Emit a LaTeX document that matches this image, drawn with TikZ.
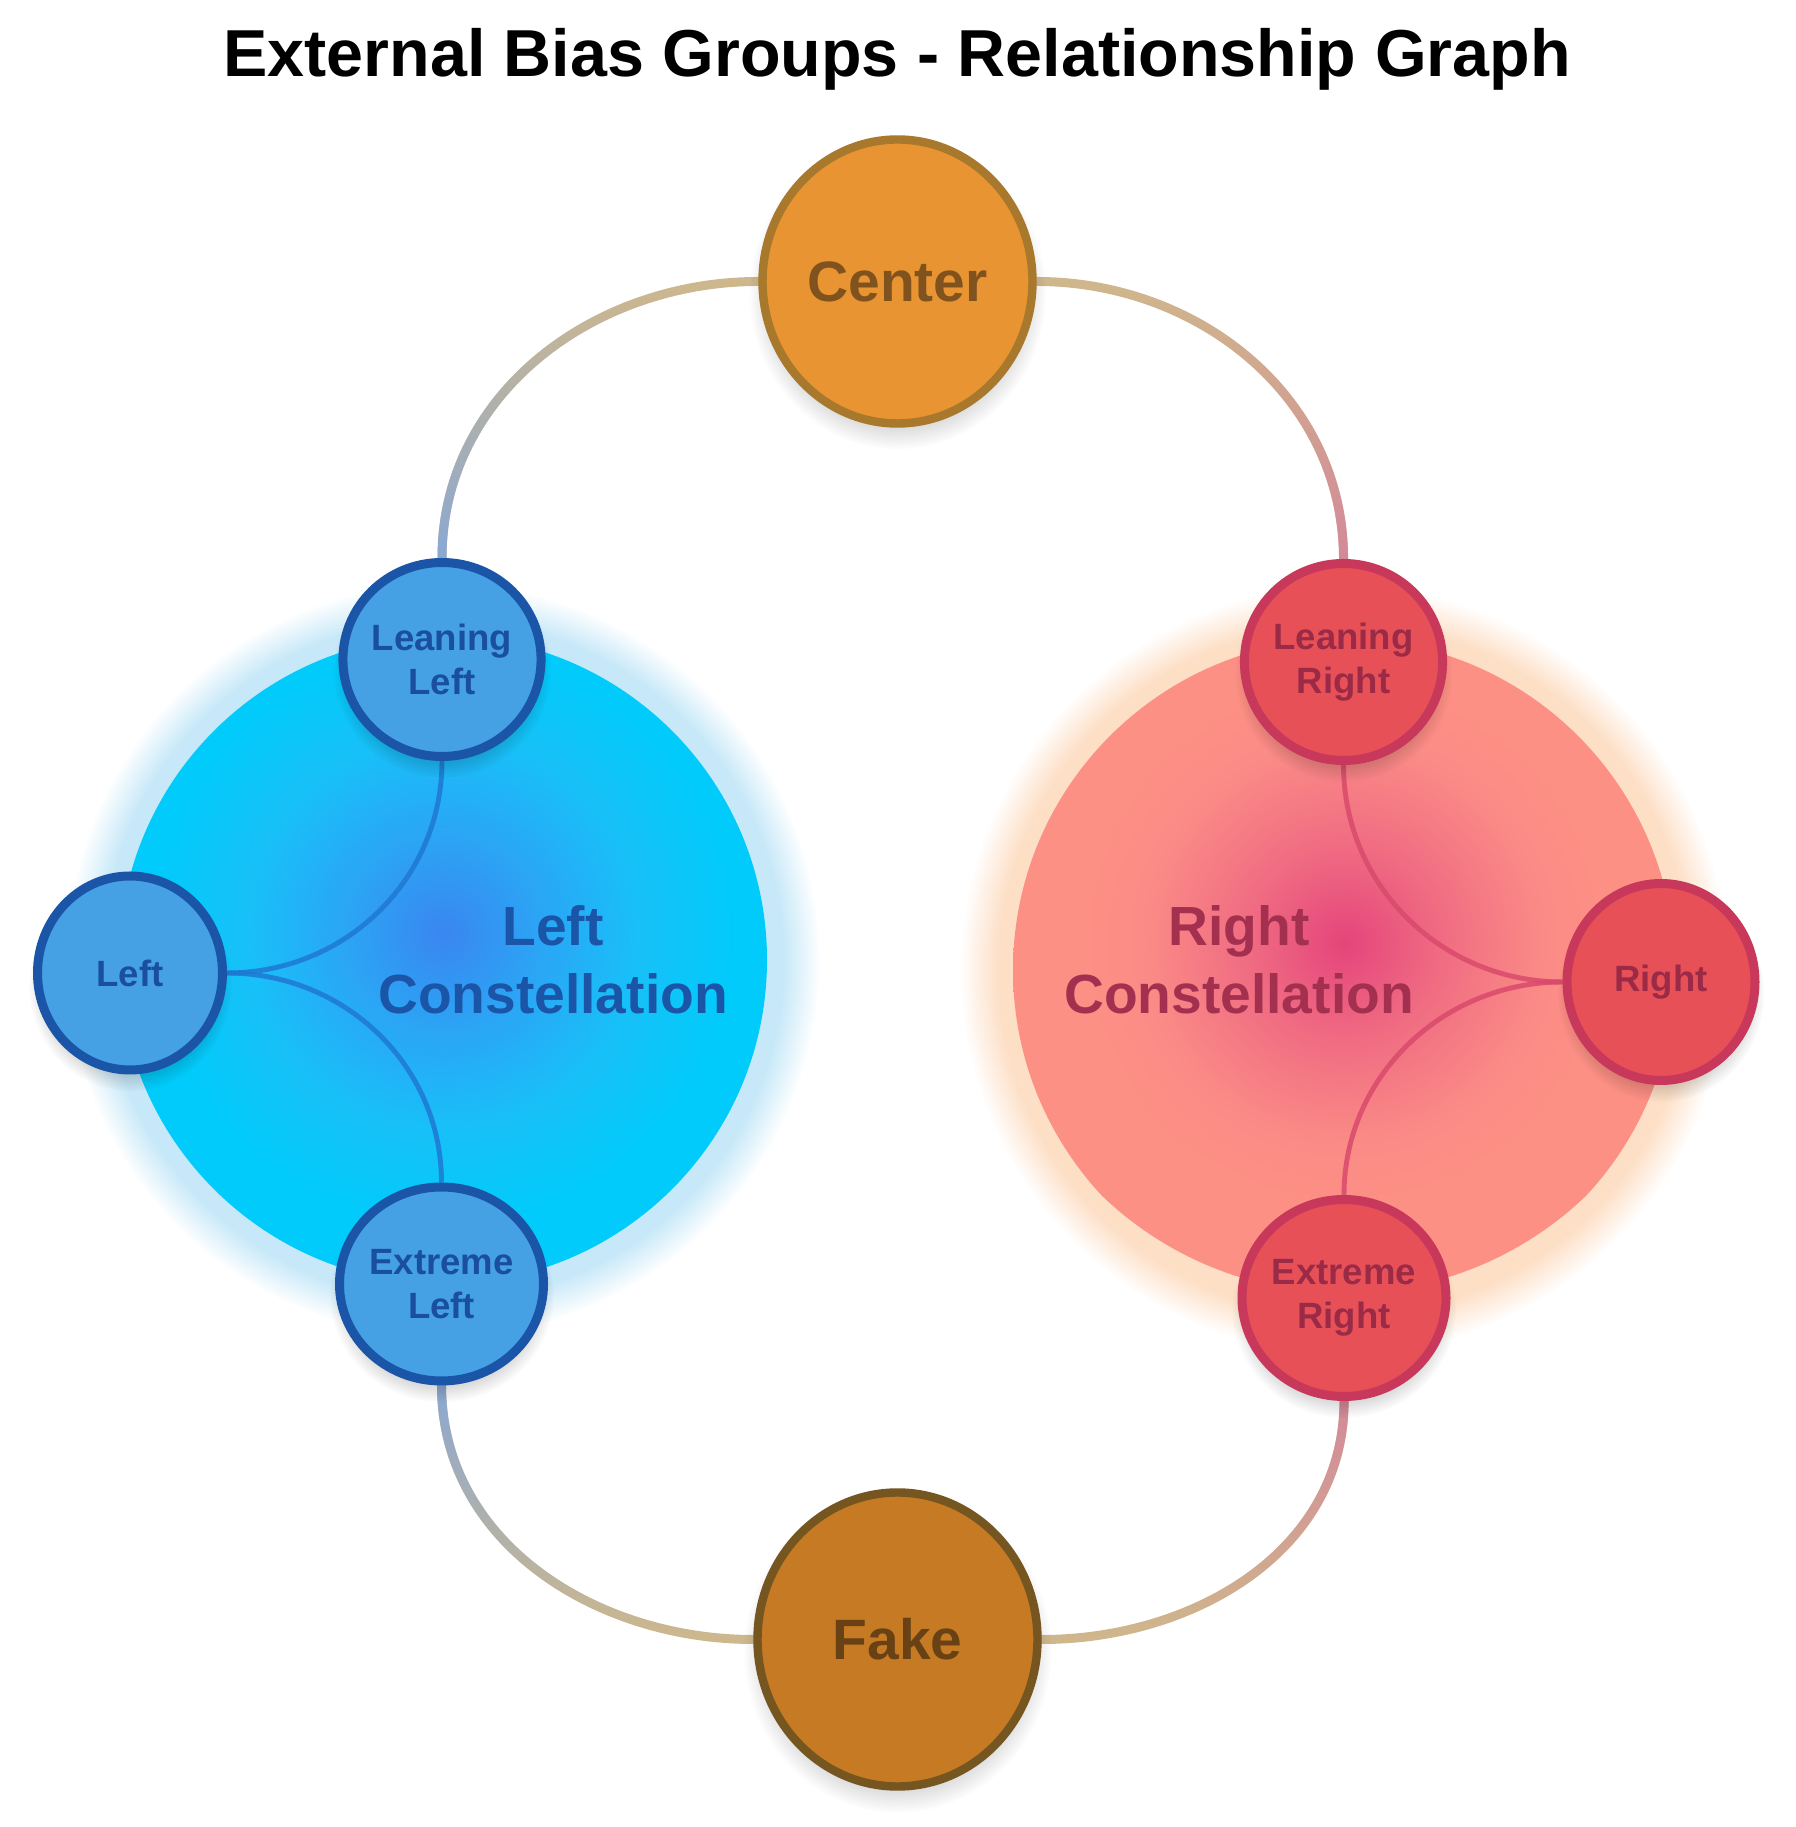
\documentclass[tikz,border=0pt]{standalone}
\usepackage{fontspec}
\setmainfont{Liberation Sans}
\usepackage{tikz}
\usetikzlibrary{positioning,shapes.geometric,fadings,shadows,calc}

% colours of the three camps
\definecolor{leftfill}{HTML}{46A0E4}
\definecolor{leftdraw}{HTML}{1A55A8}
\definecolor{lefttext}{HTML}{1A4F9F}
\definecolor{rightfill}{HTML}{E85058}
\definecolor{rightdraw}{HTML}{C8385A}
\definecolor{righttext}{HTML}{9B2A46}
\definecolor{hubfill}{HTML}{E99432}
\definecolor{hubdraw}{HTML}{A8782D}
\definecolor{hubtext}{HTML}{80521E}
\definecolor{fakefill}{HTML}{C77A24}
\definecolor{fakedraw}{HTML}{765620}
\definecolor{faketext}{HTML}{684214}
\definecolor{linktan}{HTML}{CFB88C}
\definecolor{linkblue}{HTML}{8AA8D4}
\definecolor{linkpink}{HTML}{D4889A}
\definecolor{glowblue}{HTML}{C6E8F8}
\definecolor{glowpeach}{HTML}{FDDFC6}
\definecolor{lcin}{HTML}{3A86F0}
\definecolor{lcmid}{HTML}{2BA5F5}
\definecolor{lcmidd}{HTML}{18C0F8}
\definecolor{lcout}{HTML}{00CBFA}
\definecolor{rcin}{HTML}{E4457B}
\definecolor{rcmid}{HTML}{F06C82}
\definecolor{rcmidd}{HTML}{FA8A86}
\definecolor{rcout}{HTML}{FD9085}
\definecolor{lcontext}{HTML}{1A55A8}
\definecolor{rcontext}{HTML}{A43050}

\pgfdeclareradialshading{leftcon}{\pgfpoint{0bp}{0bp}}{color(0bp)=(lcin); color(7bp)=(lcmid); color(14bp)=(lcmidd); color(21bp)=(lcout); color(50bp)=(lcout)}
\pgfdeclareradialshading{rightcon}{\pgfpoint{0bp}{0bp}}{color(0bp)=(rcin); color(7bp)=(rcmid); color(14bp)=(rcmidd); color(19bp)=(rcout); color(50bp)=(rcout)}

\tikzfading[name=fadeup, bottom color=transparent!0, middle color=transparent!75, top color=transparent!100]
\tikzfading[name=fadedown, top color=transparent!0, middle color=transparent!75, bottom color=transparent!100]

\pgfdeclarelayer{glow}
\pgfdeclarelayer{edges}
\pgfsetlayers{glow,edges,main}

\tikzset{
    bias/.style={
        ellipse,
        line width=2.56pt,
        inner sep=0pt,
        align=center,
        font=\bfseries\fontsize{10.4}{12.5}\selectfont,
        circular drop shadow={shadow xshift=0pt, shadow yshift=-3pt, shadow scale=1.1, fill=black, opacity=0.14}
    },
    leftbias/.style={bias, fill=leftfill, draw=leftdraw, text=lefttext,
        minimum width=1.85cm, minimum height=1.94cm},
    rightbias/.style={bias, fill=rightfill, draw=rightdraw, text=righttext,
        minimum width=1.88cm, minimum height=1.97cm},
    hub/.style={bias, line width=2.4pt, font=\bfseries\fontsize{16.2}{19}\selectfont},
    conlabel/.style={align=center, font=\bfseries\fontsize{15.7}{19.5}\selectfont},
    link/.style={line width=2.56pt, line cap=round},
    innerlink/.style={line width=1.4pt, opacity=0.85}
}

\begin{document}
\begin{tikzpicture}
    \useasboundingbox (0,0) rectangle (17.95,18.27);

    % title
    \node[anchor=base, font=\bfseries\fontsize{18.9}{22}\selectfont] (title) at (8.97,17.50)
        {External Bias Groups - Relationship Graph};

    % constellation centres
    \coordinate (LC) at (4.43,8.67);
    \coordinate (RC) at (13.44,8.57);

    % hubs
    \node[hub, fill=hubfill, draw=hubdraw, text=hubtext, minimum width=2.70cm, minimum height=2.84cm] (C) at (8.975,15.455) {Center};
    \node[hub, fill=fakefill, draw=fakedraw, text=faketext, minimum width=2.80cm, minimum height=2.94cm] (F) at (8.975,1.875) {Fake};

    % left camp
    \node[leftbias] (LL) at (4.42,11.675) {Leaning\\Left};
    \node[leftbias] (L) at (1.30,8.54) {Left};
    \node[leftbias] (EL) at (4.415,5.43) {Extreme\\Left};

    % right camp
    \node[rightbias] (LR) at (13.435,11.65) {Leaning\\Right};
    \node[rightbias] (R) at (16.61,8.45) {Right};
    \node[rightbias] (ER) at (13.44,5.29) {Extreme\\Right};

    % constellation labels
    \node[conlabel, text=lcontext] (lcname) at (5.53,8.67) {Left\\Constellation};
    \node[conlabel, text=rcontext] (rcname) at (12.39,8.67) {Right\\Constellation};

    % glows and constellation discs
    \begin{pgfonlayer}{glow}
        \fill[glowblue, path fading=circle with fuzzy edge 10 percent] (LC) circle (3.76);
        \fill[glowpeach, path fading=circle with fuzzy edge 10 percent] (RC) circle (3.83);
        \begin{scope}
            \clip (LC) circle (3.24);
            \shade[shading=leftcon] ($(LC)+(0,0.27)$) circle (3.5);
        \end{scope}
        \begin{scope}
            \clip (RC) circle (3.31);
            \shade[shading=rightcon] ($(RC)+(0,0.27)$) circle (3.5);
        \end{scope}
    \end{pgfonlayer}

    \begin{pgfonlayer}{edges}
        % outer ring, coloured towards each camp
        \draw[link, linktan] (C) to[out=180, in=90] (LL);
        \draw[link, linkblue, path fading=fadeup] (C) to[out=180, in=90] (LL);
        \draw[link, linktan] (C) to[out=0, in=90] (LR);
        \draw[link, linkpink, path fading=fadeup] (C) to[out=0, in=90] (LR);
        \draw[link, linktan] (EL) to[out=-90, in=180] (F);
        \draw[link, linkblue, path fading=fadedown] (EL) to[out=-90, in=180] (F);
        \draw[link, linktan] (ER) to[out=-90, in=0] (F);
        \draw[link, linkpink, path fading=fadedown] (ER) to[out=-90, in=0] (F);

        % links inside the constellations
        \draw[innerlink, draw={rgb,255:red,31;green,120;blue,210}] (LL) to[out=-90, in=0] (L);
        \draw[innerlink, draw={rgb,255:red,31;green,120;blue,210}] (L) to[out=0, in=90] (EL);
        \draw[innerlink, draw={rgb,255:red,217;green,74;blue,108}] (LR) to[out=-90, in=180] (R);
        \draw[innerlink, draw={rgb,255:red,217;green,74;blue,108}] (R) to[out=180, in=90] (ER);
    \end{pgfonlayer}
\end{tikzpicture}
\end{document}
